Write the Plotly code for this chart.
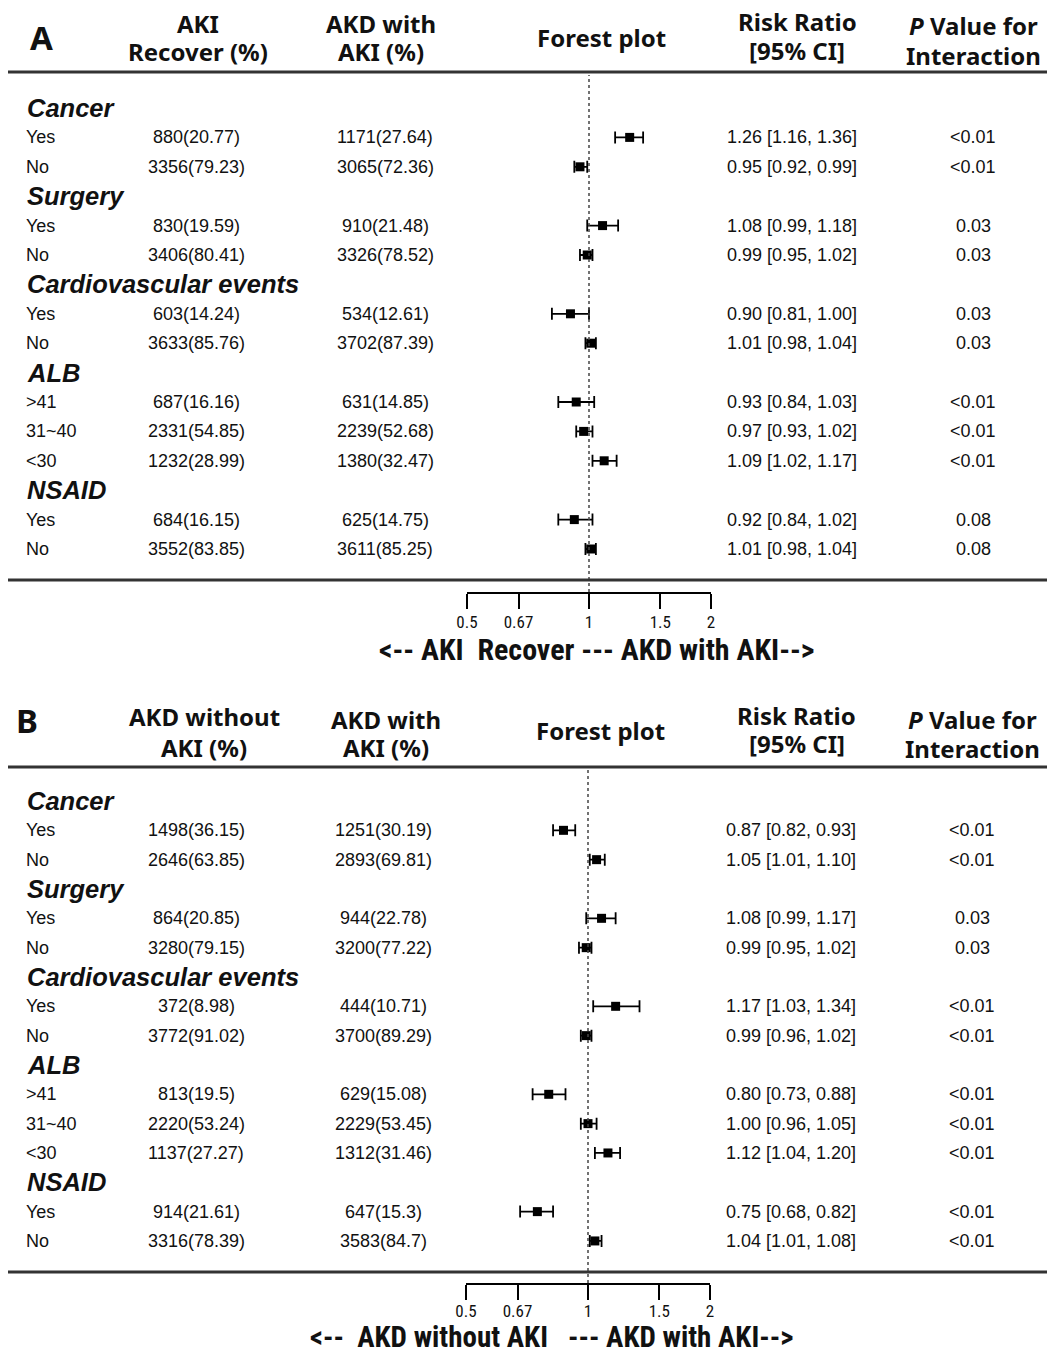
import plotly.graph_objects as go

W, H = 1047, 1353

# ---- data: panel A (AKI Recover vs AKD with AKI) ----
groups = ["Cancer", "Surgery", "Cardiovascular events", "ALB", "NSAID"]
group_levels = [["Yes", "No"], ["Yes", "No"], ["Yes", "No"], [">41", "31~40", "<30"], ["Yes", "No"]]

a_col1 = ["880(20.77)", "3356(79.23)", "830(19.59)", "3406(80.41)", "603(14.24)", "3633(85.76)",
          "687(16.16)", "2331(54.85)", "1232(28.99)", "684(16.15)", "3552(83.85)"]
a_col2 = ["1171(27.64)", "3065(72.36)", "910(21.48)", "3326(78.52)", "534(12.61)", "3702(87.39)",
          "631(14.85)", "2239(52.68)", "1380(32.47)", "625(14.75)", "3611(85.25)"]
a_rr = [1.26, 0.95, 1.08, 0.99, 0.90, 1.01, 0.93, 0.97, 1.09, 0.92, 1.01]
a_lo = [1.16, 0.92, 0.99, 0.95, 0.81, 0.98, 0.84, 0.93, 1.02, 0.84, 0.98]
a_hi = [1.36, 0.99, 1.18, 1.02, 1.00, 1.04, 1.03, 1.02, 1.17, 1.02, 1.04]
a_p = ["<0.01", "<0.01", "0.03", "0.03", "0.03", "0.03", "<0.01", "<0.01", "<0.01", "0.08", "0.08"]

# ---- data: panel B (AKD without AKI vs AKD with AKI) ----
b_col1 = ["1498(36.15)", "2646(63.85)", "864(20.85)", "3280(79.15)", "372(8.98)", "3772(91.02)",
          "813(19.5)", "2220(53.24)", "1137(27.27)", "914(21.61)", "3316(78.39)"]
b_col2 = ["1251(30.19)", "2893(69.81)", "944(22.78)", "3200(77.22)", "444(10.71)", "3700(89.29)",
          "629(15.08)", "2229(53.45)", "1312(31.46)", "647(15.3)", "3583(84.7)"]
b_rr = [0.87, 1.05, 1.08, 0.99, 1.17, 0.99, 0.80, 1.00, 1.12, 0.75, 1.04]
b_lo = [0.82, 1.01, 0.99, 0.95, 1.03, 0.96, 0.73, 0.96, 1.04, 0.68, 1.01]
b_hi = [0.93, 1.10, 1.17, 1.02, 1.34, 1.02, 0.88, 1.05, 1.20, 0.82, 1.08]
b_p = ["<0.01", "<0.01", "0.03", "0.03", "<0.01", "<0.01", "<0.01", "<0.01", "<0.01", "<0.01", "<0.01"]

tick_vals = [0.5, 0.67, 1, 1.5, 2]
tick_text = ["0.5", "0.67", "1", "1.5", "2"]

HEAD_FONT = "Noto Sans, Open Sans, sans-serif"
BODY_FONT = "Liberation Sans, Arial, sans-serif"
NARROW_FONT = "Liberation Sans Narrow, Arial Narrow, Roboto Condensed, DejaVu Sans Condensed, Roboto, sans-serif"

fig = go.Figure()
annotations = []
shapes = []


def px(x):
    return x / W


def py(y):
    return 1 - y / H


def head(text, x, y, size=24):
    annotations.append(dict(text=text, x=px(x), y=py(y), xref="paper", yref="paper",
                            xanchor="center", yanchor="middle", showarrow=False, borderpad=0,
                            font=dict(family=HEAD_FONT, size=size, color="#111")))


def build_panel(idx, cfg):
    xa = "x" if idx == 1 else "x2"
    ya = "y" if idx == 1 else "y2"
    row0, step = cfg["row0"], cfg["step"]
    top_px, axis_px = cfg["plot_top"], cfg["axis"]
    # y axis counts table rows; its range is set from the pixel extent of the plot area
    r_top = (top_px - row0) / step
    r_bot = (axis_px - row0) / step

    rows_y = []
    r = 0
    k = 0
    for g, levels in zip(groups, group_levels):
        annotations.append(dict(text="<b><i>%s</i></b>" % g, x=px(25), y=r, xref="paper", yref=ya,
                                xanchor="left", yanchor="middle", showarrow=False,
                                font=dict(family=BODY_FONT, size=25.5, color="#111")))
        r += 1
        for lv in levels:
            rows_y.append(r)
            for txt, x, anchor in [(lv, 24, "left"), (cfg["col1"][k], cfg["c1x"], "center"),
                                   (cfg["col2"][k], cfg["c2x"], "center"),
                                   ("%.2f [%.2f, %.2f]" % (cfg["rr"][k], cfg["lo"][k], cfg["hi"][k]),
                                    cfg["rrx"], "center"),
                                   (cfg["p"][k], cfg["px"], "center")]:
                annotations.append(dict(text=txt, x=px(x), y=r, xref="paper", yref=ya,
                                        xanchor=anchor, yanchor="middle", showarrow=False,
                                        font=dict(family=BODY_FONT, size=18, color="#111")))
            r += 1
            k += 1

    rr, lo, hi = cfg["rr"], cfg["lo"], cfg["hi"]
    fig.add_trace(go.Scatter(
        x=rr, y=rows_y, mode="markers", xaxis=xa, yaxis=ya, showlegend=False,
        marker=dict(symbol="square", size=9, color="black"),
        error_x=dict(type="data", symmetric=False,
                     array=[h - v for h, v in zip(hi, rr)],
                     arrayminus=[v - l for v, l in zip(rr, lo)],
                     color="black", thickness=1.8, width=6),
    ))

    # reference line at RR = 1
    shapes.append(dict(type="line", xref=xa, yref=ya + " domain", x0=1, x1=1, y0=0, y1=1,
                       line=dict(color="#444", width=1.5, dash="dot")))
    # table rules
    for yy in cfg["rules"]:
        shapes.append(dict(type="line", xref="paper", yref="paper", x0=px(8), x1=1,
                           y0=py(yy), y1=py(yy), line=dict(color="#333", width=3)))

    axis_kw = dict(type="log", range=[-0.30104, 0.30104], domain=[px(cfg["x05"]), px(cfg["x2"])],
                   anchor=ya, tickvals=tick_vals, ticktext=tick_text, ticks="outside",
                   ticklen=15, tickwidth=1.5, tickcolor="black", showline=True,
                   linecolor="black", linewidth=1.5, showgrid=False, zeroline=False,
                   automargin=False, ticklabelstandoff=cfg["standoff"],
                   tickfont=dict(family=NARROW_FONT, size=17, color="#111"))
    yaxis_kw = dict(range=[r_bot, r_top], domain=[py(axis_px), py(top_px)], anchor=xa,
                    visible=False, showgrid=False, zeroline=False, automargin=False)
    if idx == 1:
        fig.update_layout(xaxis=axis_kw, yaxis=yaxis_kw)
    else:
        fig.update_layout(xaxis2=axis_kw, yaxis2=yaxis_kw)

    annotations.append(dict(text="<b>%s</b>" % cfg["axis_title"], x=px(cfg["title_x"]),
                            y=py(cfg["title_y"]), xref="paper", yref="paper",
                            xanchor="center", yanchor="middle", showarrow=False, borderpad=0,
                            font=dict(family=NARROW_FONT, size=cfg["title_size"], color="#111")))


# panel A header
head("<b>A</b>", 41, 37, size=33)
head("<b>AKI</b>", 198, 24)
head("<b>Recover (%)</b>", 198, 51)
head("<b>AKD with</b>", 381, 24)
head("<b>AKI (%)</b>", 381, 51)
head("<b>Forest plot</b>", 601, 38)
head("<b>Risk Ratio</b>", 797, 22)
head("<b>[95% CI]</b>", 797, 50)
head("<b><i>P</i> Value for</b>", 973, 26)
head("<b>Interaction</b>", 973, 55)

build_panel(1, dict(row0=108, step=29.4, plot_top=75, axis=592, rules=[72, 580],
                    col1=a_col1, col2=a_col2, rr=a_rr, lo=a_lo, hi=a_hi, p=a_p,
                    c1x=196, c2x=385, rrx=792, px=973, x05=467, x2=711, standoff=-1,
                    axis_title="&lt;-- AKI&nbsp; Recover --- AKD with AKI--&gt;",
                    title_x=596, title_y=649, title_size=30))

# panel B header
head("<b>B</b>", 27, 721, size=33)
head("<b>AKD without</b>", 204, 716)
head("<b>AKI (%)</b>", 204, 747)
head("<b>AKD with</b>", 386, 720)
head("<b>AKI (%)</b>", 386, 747)
head("<b>Forest plot</b>", 600, 730)
head("<b>Risk Ratio</b>", 796, 715)
head("<b>[95% CI]</b>", 797, 743)
head("<b><i>P</i> Value for</b>", 972, 719)
head("<b>Interaction</b>", 972, 748)

build_panel(2, dict(row0=801, step=29.33, plot_top=770, axis=1283, rules=[767, 1272],
                    col1=b_col1, col2=b_col2, rr=b_rr, lo=b_lo, hi=b_hi, p=b_p,
                    c1x=196, c2x=383, rrx=791, px=972, x05=466, x2=710, standoff=-3,
                    axis_title="&lt;--&nbsp; AKD without AKI&nbsp;&nbsp; --- AKD with AKI--&gt;",
                    title_x=552, title_y=1337, title_size=29))

fig.update_layout(template="none", width=W, height=H,
                  margin=dict(l=0, r=0, t=0, b=0, pad=0, autoexpand=False),
                  showlegend=False, paper_bgcolor="white", plot_bgcolor="white",
                  annotations=annotations, shapes=shapes)

fig.write_html("out.html")
